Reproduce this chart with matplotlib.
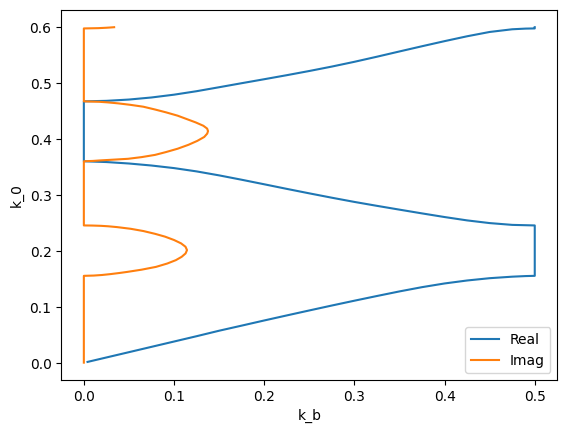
import matplotlib
matplotlib.use("Agg")
from matplotlib import pyplot as plt

# real part of the Bloch wavenumber (band 1, gap, band 2, gap, band 3)
real_kb = [0.0041, 0.05, 0.1, 0.125, 0.15, 0.175, 0.2, 0.225, 0.25, 0.275, 0.3, 0.325,
           0.35, 0.375, 0.4, 0.425, 0.45, 0.475, 0.49, 0.5,
           0.5, 0.475, 0.45, 0.425, 0.4, 0.375, 0.35, 0.325, 0.3, 0.275, 0.25, 0.225,
           0.2, 0.175, 0.15, 0.125, 0.1, 0.075, 0.05, 0.025, 0.0,
           0.0, 0.025, 0.05, 0.075, 0.1, 0.125, 0.15, 0.175, 0.2, 0.225, 0.25, 0.275,
           0.3, 0.325, 0.35, 0.375, 0.4, 0.425, 0.45, 0.475, 0.49, 0.5, 0.5]
real_k0 = [0.0023, 0.0197, 0.0387, 0.0482, 0.0580, 0.0671, 0.0763, 0.0853, 0.0942, 0.1030,
           0.1116, 0.1200, 0.1282, 0.1358, 0.1424, 0.1477, 0.1518, 0.1545, 0.1556, 0.1560,
           0.2460, 0.2470, 0.2502, 0.2550, 0.2610, 0.2675, 0.2742, 0.2810, 0.2880, 0.2955,
           0.3033, 0.3113, 0.3195, 0.3276, 0.3354, 0.3425, 0.3484, 0.3530, 0.3566, 0.3592,
           0.3606,
           0.4676, 0.4685, 0.4708, 0.4745, 0.4795, 0.4857, 0.4928, 0.5000, 0.5071, 0.5143,
           0.5218, 0.5297, 0.5382, 0.5473, 0.5567, 0.5660, 0.5751, 0.5838, 0.5915, 0.5963,
           0.5975, 0.5978, 0.6]

# imaginary part, non-zero only inside the gaps
imag_kb = [0.0, 0.0, 0.011, 0.020, 0.029, 0.039, 0.048, 0.064, 0.080, 0.0925, 0.102, 0.1085,
           0.1128, 0.1144, 0.1127, 0.1078, 0.1000, 0.090, 0.079, 0.066, 0.052, 0.037,
           0.027, 0.019, 0.0095, 0.0,
           0.0, 0.010, 0.017, 0.030, 0.049, 0.064, 0.079, 0.091, 0.104, 0.116, 0.1258,
           0.1335, 0.1368, 0.1377, 0.1367, 0.1325, 0.1240, 0.1140, 0.1040, 0.0910, 0.0790,
           0.066, 0.0510, 0.0380, 0.0260, 0.0170, 0.0,
           0.0, 0.016, 0.0248, 0.0295, 0.0336]
imag_k0 = [0.0010, 0.1560, 0.1565, 0.1575, 0.1590, 0.1610, 0.1630, 0.1670, 0.1720, 0.1780,
           0.1840, 0.1900, 0.1960, 0.2020, 0.2080, 0.2140, 0.2200, 0.2260, 0.2310, 0.2360,
           0.2400, 0.2430, 0.2445, 0.2453, 0.2458, 0.2460,
           0.3606, 0.3612, 0.3620, 0.3632, 0.3650, 0.3680, 0.3720, 0.3770, 0.3830, 0.3900,
           0.3970, 0.4040, 0.4100, 0.4145, 0.4190, 0.4240, 0.4300, 0.4360, 0.4420, 0.4480,
           0.4530, 0.4580, 0.4615, 0.4640, 0.4658, 0.4668, 0.4676,
           0.5978, 0.5983, 0.5990, 0.5995, 0.6]

fig = plt.figure(figsize=(5.67, 4.33), dpi=100)
ax = fig.add_axes([61.3 / 567, 53 / 433, 496 / 567, 369.6 / 433])
ax.plot(real_kb, real_k0, label="Real")
ax.plot(imag_kb, imag_k0, label="Imag")
ax.set_xlim(-0.025, 0.525)
ax.set_ylim(-0.03, 0.63)
ax.set_xlabel("k_b")
ax.set_ylabel("k_0")
ax.legend(loc="lower right")
fig.savefig("out.png", dpi=100)
